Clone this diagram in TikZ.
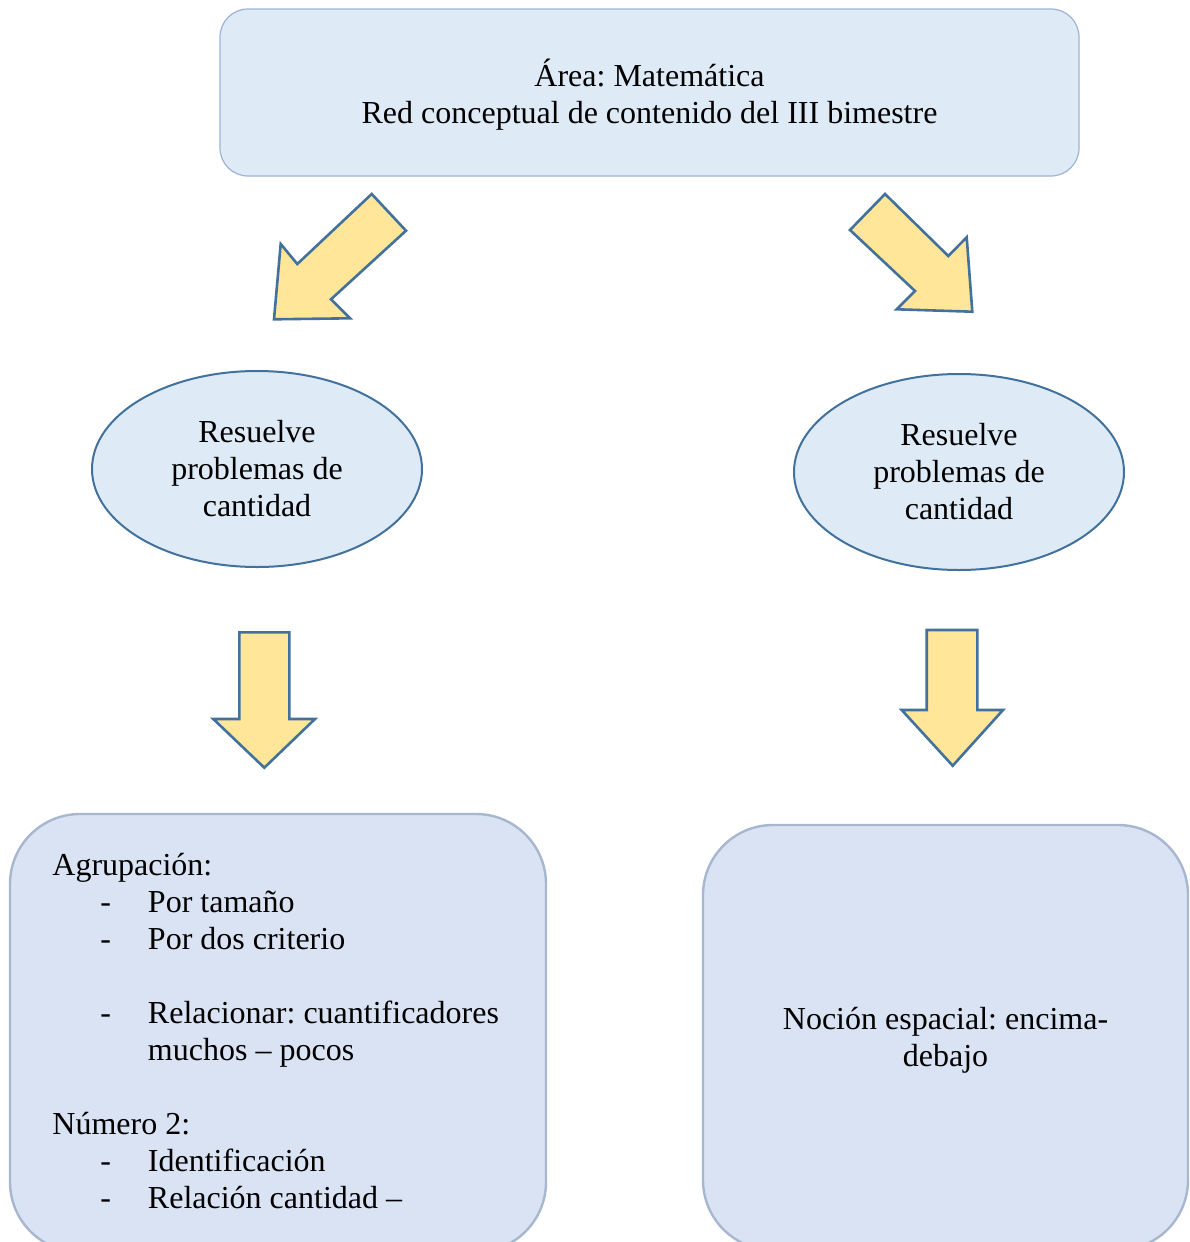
\documentclass[tikz,border=0pt]{standalone}
\usepackage{fontspec}
\setmainfont{Liberation Serif}
\usetikzlibrary{positioning, shapes.geometric}

\definecolor{cajaazul}{HTML}{DEEBF7}
\definecolor{cajaborde}{HTML}{9DB3D3}
\definecolor{elipborde}{HTML}{41719C}
\definecolor{flechaamar}{HTML}{FFE699}
\definecolor{cajalila}{HTML}{DAE3F3}
\definecolor{lilaborde}{HTML}{A7B7CF}

\frenchspacing
\newcommand{\guion}[1]{\hspace*{24pt}\makebox[23.8pt][l]{-}#1}

\begin{document}
\begin{tikzpicture}[x=0.5pt, y=-0.5pt,
    every node/.style={font=\fontsize{16}{18.5}\selectfont},
    titulo/.style={draw=cajaborde, fill=cajaazul, rounded corners=14pt, line width=0.6pt,
        minimum width=429.5pt, minimum height=83.5pt},
    competencia/.style={ellipse, draw=elipborde, fill=cajaazul, line width=1pt,
        minimum width=165pt, minimum height=98pt, inner sep=0pt, align=center},
    contenido/.style={draw=lilaborde, fill=cajalila, rounded corners=35pt, line width=1.2pt},
    flecha/.style={draw=elipborde, fill=flechaamar, line width=1.3pt, line join=miter}]
        \useasboundingbox (0,0) rectangle (1189,1242);
        \clip (0,0) rectangle (1189,1242);

        \node[titulo] (area) at (649.5,92.5) {};
        \node[align=center] (areatexto) at (649.5,95) {Área: Matemática\\Red conceptual de contenido del III bimestre};
        \node[competencia] (res1) at (257,469) {Resuelve\\problemas de\\cantidad};
        \node[competencia] (res2) at (959,472) {Resuelve\\problemas de\\cantidad};
        \node[contenido, minimum width=268pt, minimum height=219pt] (cont1) at (278,1033) {};
        \node[contenido, minimum width=242.5pt, minimum height=212.5pt] (cont2) at (945.5,1037.5) {};
        \node[align=center] (nocion) at (945.5,1040.5) {Noción espacial: encima-\\debajo};
        \node[anchor=north west, align=left, inner sep=0pt] (lista) at (52,853) {Agrupación:\\
            \guion{Por tamaño}\\
            \guion{Por dos criterio}\\[18.5pt]
            \guion{Relacionar: cuantificadores}\\
            \hspace*{47.8pt}muchos – pocos\\[18.5pt]
            Número 2:\\
            \guion{Identificación}\\
            \guion{Relación cantidad –}};

        % flechas de bloque
        \draw[flecha] (371.7,194) -- (406,230.7) -- (331,299.3) -- (350,318.3) -- (274,319.3)
            -- (280.7,244) -- (297.3,264) -- cycle;
        \draw[flecha] (885,194) -- (850,230) -- (915,291) -- (896.7,309.3) -- (972.3,311.7)
            -- (966.7,237.3) -- (948.3,256) -- cycle;
        \draw[flecha] (239.3,632.3) -- (289.3,632.3) -- (289.3,719) -- (315,719) -- (264.3,767.7)
            -- (213.3,719) -- (239.3,719) -- cycle;
        \draw[flecha] (926.7,630) -- (977.3,630) -- (977.3,710) -- (1003,710) -- (952.7,765.7)
            -- (901.7,710) -- (926.7,710) -- cycle;
    \end{tikzpicture}
\end{document}
